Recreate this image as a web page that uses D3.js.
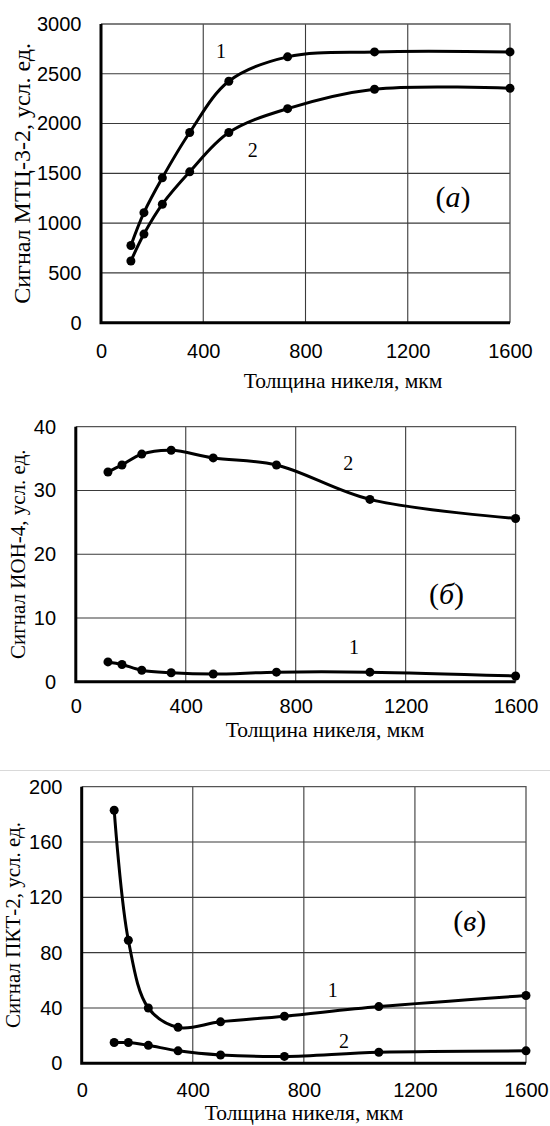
<!DOCTYPE html>
<html>
<head>
<meta charset="utf-8">
<script src="https://cdn.jsdelivr.net/npm/d3@7"></script>
<style>
body { margin: 0; background: #fff; }
.tick text { font-family: "Liberation Sans", Arial, sans-serif; font-size: 20px; fill: #000; }
.serif { font-family: "Liberation Serif", "Times New Roman", serif; fill: #000; }
</style>
</head>
<body>
<div id="chart"></div>
<script>
// толщина никеля, мкм
var thickness = [117, 168, 240, 347, 500, 730, 1070, 1600];

// (а) МТЦ-3-2
var mtc1 = [775, 1105, 1455, 1910, 2425, 2670, 2720, 2720];
var mtc2 = [620, 890, 1190, 1515, 1910, 2150, 2345, 2355];
// (б) ИОН-4
var ion1 = [3.1, 2.7, 1.8, 1.4, 1.2, 1.5, 1.5, 0.9];
var ion2 = [32.9, 34.0, 35.7, 36.3, 35.1, 34.0, 28.6, 25.6];
// (в) ПКТ-2
var pkt1 = [183, 89, 40, 26, 30, 34, 41, 49];
var pkt2 = [15, 15, 13, 9, 6, 5, 8, 9];

var xTicks = [0, 400, 800, 1200, 1600];
var yTicksA = [0, 500, 1000, 1500, 2000, 2500, 3000];
var yTicksB = [0, 10, 20, 30, 40];
var yTicksC = [0, 40, 80, 120, 160, 200];

var xTitle = "Толщина никеля, мкм";

var svg = d3.select("#chart").append("svg")
    .attr("width", 550)
    .attr("height", 1126);

// тонкая серая линия между (б) и (в)
svg.append("line")
    .attr("x1", 0).attr("x2", 550)
    .attr("y1", 770.5).attr("y2", 770.5)
    .attr("stroke", "#d9d9d9")
    .attr("stroke-width", 1);

function ChartHelper(box, yDomain, yTicks, s1, s2, yTitle, tag, lab1, lab2) {
    var x = d3.scaleLinear().domain([0, 1600]).range([box.left, box.right]);
    var y = d3.scaleLinear().domain(yDomain).range([box.bottom, box.top]);
    var g = svg.append("g");

    // grid
    g.append("g").selectAll("line").data(yTicks.slice(1, -1)).join("line")
        .attr("x1", box.left).attr("x2", box.right)
        .attr("y1", d => y(d)).attr("y2", d => y(d))
        .attr("stroke", "#3a3a3a").attr("stroke-width", 1.1);
    g.append("g").selectAll("line").data(xTicks.slice(1, -1)).join("line")
        .attr("x1", d => x(d)).attr("x2", d => x(d))
        .attr("y1", box.top).attr("y2", box.bottom)
        .attr("stroke", "#3a3a3a").attr("stroke-width", 1.1);
    // top and right border
    g.append("path")
        .attr("d", `M${box.left},${box.top}H${box.right}V${box.bottom}`)
        .attr("fill", "none").attr("stroke", "#555").attr("stroke-width", 1.3);

    // axes
    var ax = g.append("g")
        .attr("transform", `translate(0, ${box.bottom})`)
        .call(d3.axisBottom(x).tickValues(xTicks).tickSize(0).tickPadding(box.xPad).tickFormat(d3.format("d")));
    ax.select(".domain").remove();
    var ay = g.append("g")
        .attr("transform", `translate(${box.left}, 0)`)
        .call(d3.axisLeft(y).tickValues(yTicks).tickSize(0).tickPadding(box.yPad).tickFormat(d3.format("d")));
    ay.select(".domain").remove();
    g.append("path")
        .attr("d", `M${box.left},${box.top}V${box.bottom}H${box.right}`)
        .attr("fill", "none").attr("stroke", "#000").attr("stroke-width", 3);

    // curves
    var line = d3.line()
        .x((d, i) => x(thickness[i]))
        .y(d => y(d))
        .curve(d3.curveCatmullRom);
    [s1, s2].forEach(function (s) {
        g.append("path").datum(s)
            .attr("d", line)
            .attr("fill", "none").attr("stroke", "#000").attr("stroke-width", 3);
        g.append("g").selectAll("circle").data(s).join("circle")
            .attr("cx", (d, i) => x(thickness[i]))
            .attr("cy", d => y(d))
            .attr("r", 4.5)
            .attr("fill", "#000");
    });

    // titles
    g.append("text").attr("class", "serif")
        .attr("transform", `translate(${box.yTitleX}, ${(box.top + box.bottom) / 2}) rotate(-90)`)
        .attr("text-anchor", "middle")
        .style("font-size", box.yTitleSize + "px")
        .text(yTitle);
    g.append("text").attr("class", "serif")
        .attr("x", box.xTitleX).attr("y", box.xTitleY)
        .attr("text-anchor", "middle")
        .style("font-size", "21.5px")
        .text(xTitle);

    // curve numbers
    [lab1, lab2].forEach(function (l) {
        g.append("text").attr("class", "serif")
            .attr("x", l[0]).attr("y", l[1])
            .attr("text-anchor", "middle")
            .style("font-size", "20px")
            .text(l[2]);
    });

    // panel tag
    var t = g.append("text").attr("class", "serif")
        .attr("x", tag[0]).attr("y", tag[1])
        .attr("text-anchor", "middle")
        .style("font-size", "30px");
    t.append("tspan").text("(");
    t.append("tspan").style("font-style", "italic").text(tag[2]);
    t.append("tspan").text(")");
}

ChartHelper({ left: 101, right: 510, top: 24, bottom: 322.7, xPad: 21.4, yPad: 19.5,
              yTitleX: 30, yTitleSize: 24, xTitleX: 343, xTitleY: 388 },
    [0, 3000], yTicksA, mtc1, mtc2, "Сигнал МТЦ-3-2, усл. ед.",
    [453, 207, "а"], [221, 58.3, "1"], [252.7, 156.7, "2"]);

ChartHelper({ left: 75.8, right: 515.6, top: 426.7, bottom: 681.7, xPad: 17, yPad: 19.8,
              yTitleX: 24.5, yTitleSize: 21, xTitleX: 325, xTitleY: 737 },
    [0, 40], yTicksB, ion1, ion2, "Сигнал ИОН-4, усл. ед.",
    [446.5, 604, "б"], [354, 654, "1"], [348.3, 470, "2"]);

ChartHelper({ left: 81.7, right: 526, top: 786.7, bottom: 1063.3, xPad: 19.2, yPad: 19.3,
              yTitleX: 19.5, yTitleSize: 21, xTitleX: 304, xTitleY: 1120 },
    [0, 200], yTicksC, pkt1, pkt2, "Сигнал ПКТ-2, усл. ед.",
    [469.7, 931, "в"], [332.7, 997.3, "1"], [344, 1048.3, "2"]);
</script>
</body>
</html>
